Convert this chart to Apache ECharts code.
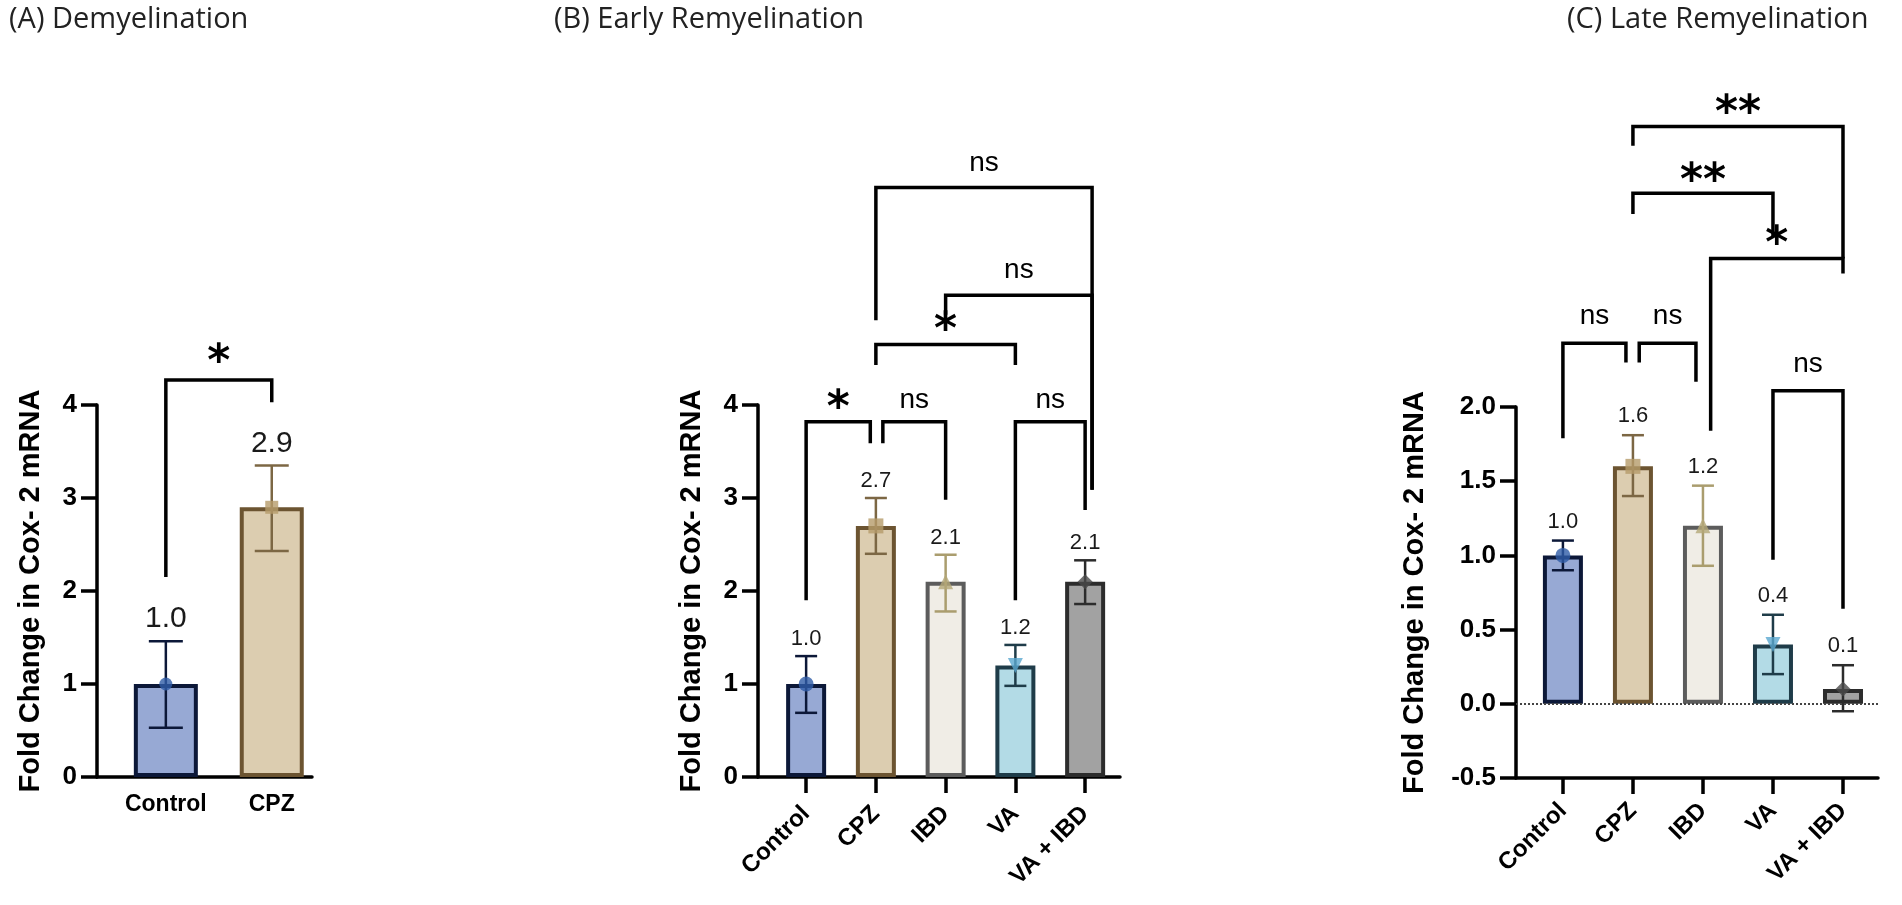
<!DOCTYPE html>
<html>
<head>
<meta charset="utf-8">
<script src="https://cdn.jsdelivr.net/npm/echarts@6/dist/echarts.min.js"></script>
<style>
  html, body { margin: 0; padding: 0; background: #fff; }
  #chart { width: 1902px; height: 905px; }
</style>
</head>
<body>
<div id="chart"></div>
<script>
// (A) Demyelination
var catsA = ['Control', 'CPZ'];
var meanA = [1.0, 2.9];
var lowA = [0.53, 2.43];
var highA = [1.46, 3.35];

// (B) Early Remyelination
var catsB = ['Control', 'CPZ', 'IBD', 'VA', 'VA + IBD'];
var meanB = [1.0, 2.7, 2.1, 1.2, 2.1];
var lowB = [0.69, 2.40, 1.78, 0.98, 1.86];
var highB = [1.30, 3.00, 2.39, 1.42, 2.33];

// (C) Late Remyelination
var catsC = ['Control', 'CPZ', 'IBD', 'VA', 'VA + IBD'];
var meanC = [1.0, 1.6, 1.2, 0.4, 0.1];
var lowC = [0.90, 1.40, 0.93, 0.20, -0.05];
var highC = [1.10, 1.81, 1.47, 0.60, 0.26];

// y axis ranges: [min, max, interval]
var yRangeA = [0, 4, 1];
var yRangeB = [0, 4, 1];
var yRangeC = [-0.5, 2.0, 0.5];

// significance brackets: [xLeft, xRight, top, leftLegEnd, rightLegEnd, labelY]
var sigA = [[0, 1, 4.27, 2.15, 4.03, 4.54]];
var sigLabelsA = ['*'];
var sigB = [
  [0, 0.92, 3.82, 1.90, 3.59, 4.05],
  [1.10, 2.0, 3.82, 3.59, 2.98, 4.05],
  [3.0, 4.0, 3.82, 1.90, 2.87, 4.05],
  [1.0, 3.0, 4.65, 4.43, 4.43, 4.89],
  [2.0, 4.1, 5.18, 4.97, 3.09, 5.45],
  [1.0, 4.1, 6.34, 4.91, 3.09, 6.60]
];
var sigLabelsB = ['*', 'ns', 'ns', '*', 'ns', 'ns'];
var sigC = [
  [0, 0.9, 2.43, 1.79, 2.30, 2.61],
  [1.09, 1.9, 2.43, 2.30, 2.17, 2.61],
  [3.0, 4.0, 2.11, 0.97, 0.64, 2.29],
  [2.11, 4.0, 3.00, 1.84, 2.90, 3.15],
  [1.0, 3.0, 3.44, 3.30, 3.15, 3.57],
  [1.0, 4.0, 3.89, 3.76, 3.00, 4.03]
];
var sigLabelsC = ['ns', 'ns', 'ns', '*', '**', '**'];

// styles per group
var fills = ['#97a9d4', '#dccdb0', '#f0ede6', '#b3dbe6', '#a2a2a2'];
var borders = ['#0c1838', '#6c5431', '#5c5c5c', '#1f3c49', '#2c2c2c'];
var errColors = ['#0c1838', '#7c6744', '#aa9d6e', '#1f3c49', '#2c2c2c'];
var markColors = ['#2f5da8', '#b59b6a', '#b4a778', '#5aa8cf', '#4a4a4a'];
var markSymbols = ['circle', 'rect', 'triangle', 'triangle', 'diamond'];
var markRotate = [0, 0, 0, 180, 0];

var FONT = '"Liberation Sans", Arial, sans-serif';
var chart = echarts.init(document.getElementById('chart'));
var grids = [], xAxes = [], yAxes = [], series = [];

function addPanel(p) {
    var k = grids.length;
    var idx = p.cats.map(function (c, i) { return i; });
    grids.push({ left: p.left, top: p.top, width: p.width, height: p.height });
    xAxes.push({
        gridIndex: k, type: 'value', min: p.xMin, max: p.xMax,
        splitLine: { show: false },
        axisLine: { onZero: false, lineStyle: { color: '#000', width: 3.5 } },
        axisTick: { show: p.xTicks, customValues: idx, length: 16, lineStyle: { color: '#000', width: 3.5 } },
        axisLabel: {
            customValues: idx, rotate: p.rotate, margin: p.labelMargin,
            formatter: function (v) { return p.cats[Math.round(v)]; },
            fontFamily: FONT, fontWeight: 'bold', fontSize: p.catSize, color: '#000'
        }
    });
    yAxes.push({
        gridIndex: k, type: 'value', min: p.yRange[0], max: p.yRange[1], interval: p.yRange[2],
        name: 'Fold Change in Cox- 2 mRNA', nameLocation: 'middle', nameRotate: 90, nameGap: p.nameGap,
        nameTextStyle: { fontFamily: FONT, fontWeight: 'bold', fontSize: 29, color: '#000' },
        splitLine: { show: false },
        axisLine: { show: true, onZero: false, lineStyle: { color: '#000', width: 3.5 } },
        axisTick: { show: true, length: 16, lineStyle: { color: '#000', width: 3.5 } },
        axisLabel: {
            margin: 20, fontFamily: FONT, fontWeight: 'bold', fontSize: 26, color: '#000',
            formatter: p.yFmt
        }
    });

    var bar = {
        type: 'bar', xAxisIndex: k, yAxisIndex: k, barWidth: p.barW, z: 2, silent: true,
        data: p.mean.map(function (v, i) {
            return { value: [i, v], itemStyle: { color: fills[i], borderColor: borders[i], borderWidth: 4 } };
        })
    };
    if (p.zeroLine) {
        bar.markLine = {
            silent: true, symbol: 'none', label: { show: false },
            lineStyle: { type: 'dotted', color: '#444', width: 2 },
            data: [{ yAxis: 0 }]
        };
    }
    series.push(bar);

    // error bars + mean labels
    series.push({
        type: 'custom', xAxisIndex: k, yAxisIndex: k, z: 3, silent: true,
        data: p.mean.map(function (v, i) { return [i, p.low[i], p.high[i], v]; }),
        renderItem: function (params, api) {
            var i = api.value(0);
            var lo = api.coord([i, api.value(1)]);
            var hi = api.coord([i, api.value(2)]);
            var c = errColors[i];
            var hw = p.capW / 2;
            return {
                type: 'group', children: [
                    { type: 'line', shape: { x1: lo[0], y1: lo[1], x2: hi[0], y2: hi[1] }, style: { stroke: c, lineWidth: 2.5 } },
                    { type: 'line', shape: { x1: lo[0] - hw, y1: lo[1], x2: lo[0] + hw, y2: lo[1] }, style: { stroke: c, lineWidth: 2.5 } },
                    { type: 'line', shape: { x1: hi[0] - hw, y1: hi[1], x2: hi[0] + hw, y2: hi[1] }, style: { stroke: c, lineWidth: 2.5 } },
                    {
                        type: 'text', x: hi[0], y: hi[1] - p.valGap,
                        style: {
                            text: api.value(3).toFixed(1), fill: '#1a1a1a', fontSize: p.valSize,
                            fontFamily: FONT, align: 'center', verticalAlign: 'bottom'
                        }
                    }
                ]
            };
        }
    });

    // group markers
    series.push({
        type: 'scatter', xAxisIndex: k, yAxisIndex: k, z: 4, silent: true, symbolSize: p.markSize,
        data: p.mean.map(function (v, i) {
            return { value: [i, v], symbol: markSymbols[i], symbolRotate: markRotate[i], itemStyle: { color: markColors[i] } };
        })
    });

    // significance brackets
    series.push({
        type: 'custom', xAxisIndex: k, yAxisIndex: k, z: 5, silent: true, clip: false,
        data: p.sig,
        renderItem: function (params, api) {
            var x1 = api.value(0), x2 = api.value(1), top = api.value(2);
            var a = api.coord([x1, api.value(3)]);
            var b = api.coord([x1, top]);
            var c = api.coord([x2, top]);
            var d = api.coord([x2, api.value(4)]);
            var m = api.coord([(x1 + x2) / 2, api.value(5)]);
            var txt = p.sigLabels[params.dataIndex];
            var star = txt.charAt(0) === '*';
            return {
                type: 'group', children: [
                    { type: 'polyline', shape: { points: [a, b, c, d] }, style: { stroke: '#000', lineWidth: 3.5, fill: 'none' } },
                    {
                        type: 'text', x: m[0], y: m[1] + (star ? 9 : 0),
                        style: {
                            text: txt, fill: '#000', fontSize: star ? 44 : 28,
                            fontWeight: star ? 'bold' : 'normal',
                            fontFamily: star ? '"DejaVu Sans", sans-serif' : FONT,
                            align: 'center', verticalAlign: 'middle'
                        }
                    }
                ]
            };
        }
    });
}

var intFmt = function (v) { return String(v); };
var decFmt = function (v) { return v.toFixed(1); };

addPanel({
    cats: catsA, mean: meanA, low: lowA, high: highA, sig: sigA, sigLabels: sigLabelsA,
    left: 97, top: 405, width: 215, height: 372, xMin: -0.65, xMax: 1.38,
    yRange: yRangeA, yFmt: intFmt, nameGap: 52, xTicks: false, rotate: 0, labelMargin: 16, catSize: 23,
    barW: 64, capW: 34, valSize: 30, valGap: 7, markSize: 13
});
addPanel({
    cats: catsB, mean: meanB, low: lowB, high: highB, sig: sigB, sigLabels: sigLabelsB,
    left: 758, top: 405, width: 362, height: 372, xMin: -0.69, xMax: 4.5,
    yRange: yRangeB, yFmt: intFmt, nameGap: 52, xTicks: true, rotate: 45, labelMargin: 33, catSize: 24,
    barW: 40, capW: 22, valSize: 22, valGap: 6, markSize: 15
});
addPanel({
    cats: catsC, mean: meanC, low: lowC, high: highC, sig: sigC, sigLabels: sigLabelsC,
    left: 1516, top: 407, width: 362, height: 371, xMin: -0.67, xMax: 4.5,
    yRange: yRangeC, yFmt: decFmt, nameGap: 87, xTicks: true, rotate: 45, labelMargin: 29, catSize: 24,
    barW: 40, capW: 22, valSize: 22, valGap: 8, markSize: 15, zeroLine: true
});

var titleStyle = { fontFamily: '"Open Sans", sans-serif', fontWeight: 'normal', fontSize: 29, color: '#222' };
chart.setOption({
    animation: false,
    backgroundColor: '#fff',
    title: [
        { text: '(A) Demyelination', left: 4, top: 0, textStyle: titleStyle },
        { text: '(B) Early Remyelination', left: 549, top: 0, textStyle: titleStyle },
        { text: '(C) Late Remyelination', left: 1562, top: 0, textStyle: titleStyle }
    ],
    grid: grids,
    xAxis: xAxes,
    yAxis: yAxes,
    series: series
});
</script>
</body>
</html>
